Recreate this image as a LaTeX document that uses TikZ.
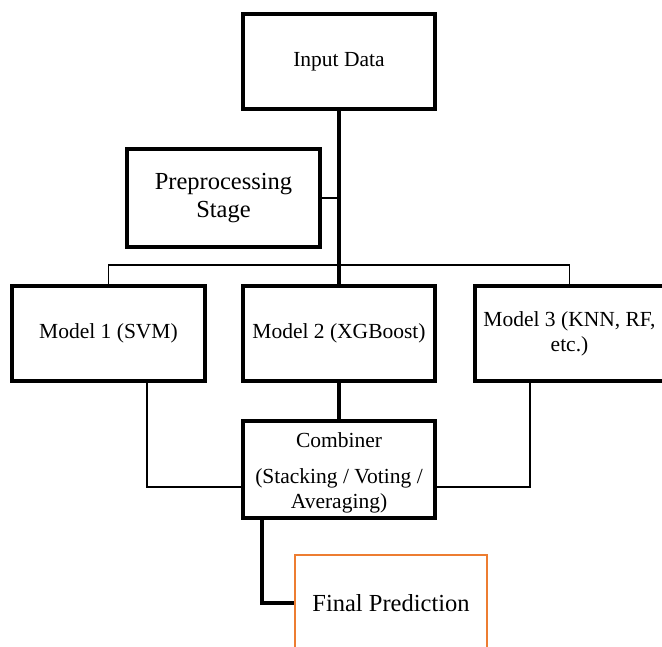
\documentclass[tikz,border=0pt]{standalone}
\usepackage{fontspec}
\setmainfont{Liberation Serif}
\begin{document}
\begin{tikzpicture}[x=1pt,y=-1pt,
  box/.style={draw, line width=3.5pt, rectangle, align=center, inner sep=0pt, fill=white},
  thickline/.style={line width=3.2pt},
  thinline/.style={line width=1.3pt},
  basetxt/.style={font=\fontsize{21.5}{25}\selectfont},
  bigtxt/.style={font=\fontsize{24.5}{28}\selectfont}]
\useasboundingbox (0,0) rectangle (662,646);
\definecolor{outorange}{RGB}{237,125,49}

% boxes
\node[box, basetxt, minimum width=192, minimum height=95] (in) at (339,61.5) {Input Data};
\node[box, bigtxt, minimum width=193, minimum height=98] (pre) at (223.5,198) {Preprocessing\\Stage};
\node[box, basetxt, minimum width=193, minimum height=95] (m1) at (108.5,333.5) {Model 1 (SVM)};
\node[box, basetxt, minimum width=192, minimum height=95] (m2) at (339,333.5) {Model 2 (XGBoost)};
\node[box, basetxt, minimum width=189, minimum height=95] (m3) at (569.5,333.5) {Model 3 (KNN, RF,\\etc.)};
\node[box, basetxt, minimum width=192, minimum height=97] (comb) at (339,469.5) {\rule{0pt}{21pt}Combiner\\[11pt](Stacking / Voting /\\Averaging)};
\node[draw=outorange, line width=2.5pt, rectangle, inner sep=0pt, bigtxt, minimum width=192, minimum height=96] (fp) at (391,603) {Final Prediction};

% connectors
\coordinate (bus) at (339,265);
\draw[thickline] (in.south) -- (m2.north);
\draw[thinline] (pre.east) -- (pre.east -| in.south);
\draw[thinline] (m1.north) |- (bus) -| (m3.north);
\draw[thickline] (m2.south) -- (comb.north);
\draw[thinline] ([xshift=38.5pt]m1.south) |- ([yshift=-17.5pt]comb.west);
\draw[thinline] ([xshift=-39.5pt]m3.south) |- ([yshift=-17.5pt]comb.east);
\draw[thickline] ([xshift=-77pt]comb.south) |- (fp.west);
\end{tikzpicture}
\end{document}
